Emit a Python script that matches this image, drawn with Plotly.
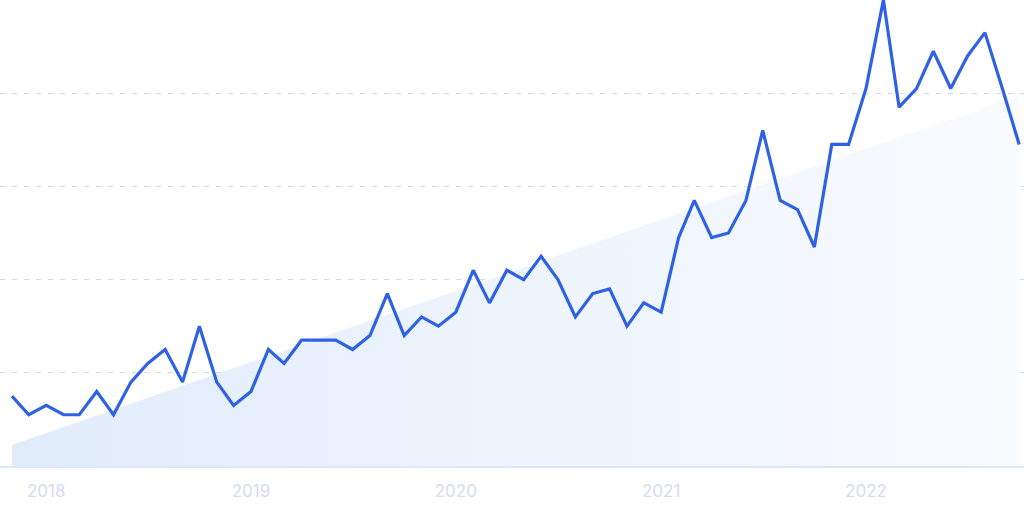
import pandas as pd
import plotly.graph_objects as go

# Monthly values, Nov 2017 .. Oct 2022
months = pd.date_range("2017-11-01", periods=60, freq="MS")
values = [15, 11, 13, 11, 11, 16, 11, 18, 22, 25, 18, 30, 18, 13, 16, 25, 22, 27, 27, 27,
          25, 28, 37, 28, 32, 30, 33, 42, 35, 42, 40, 45, 40, 32, 37, 38, 30, 35, 33, 49,
          57, 49, 50, 57, 72, 57, 55, 47, 69, 69, 81, 100, 77, 81, 89, 81, 88, 93, 81, 69]

# Trend (start and end value)
trend_x = [months[0], months[-1]]
trend_y = [4.5, 79.5]

tick_years = ["2018-01-01", "2019-01-01", "2020-01-01", "2021-01-01", "2022-01-01"]
tick_labels = ["2018", "2019", "2020", "2021", "2022"]
grid_vals = [20, 40, 60, 80, 100]

fig = go.Figure()
fig.add_trace(go.Scatter(
    x=trend_x, y=trend_y, mode="lines", line=dict(width=0),
    fill="tozeroy",
    fillgradient=dict(type="horizontal",
                      colorscale=[[0, "#e1ecfb"], [0.5, "#edf4fd"], [1, "#f9fbff"]]),
    hoverinfo="skip", showlegend=False, yaxis="y",
))
fig.add_trace(go.Scatter(
    x=months, y=values, mode="lines",
    line=dict(color="#2f62e3", width=3.2),
    showlegend=False, yaxis="y2",
))

month_days = 30.44
x0 = months[0] - pd.Timedelta(days=0.70 * month_days)
x1 = months[0] + pd.Timedelta(days=59.25 * month_days)

fig.update_layout(
    width=1024, height=511,
    margin=dict(l=0, r=0, t=0, b=45),
    paper_bgcolor="white", plot_bgcolor="white",
    font=dict(family="Inter, sans-serif"),
    xaxis=dict(
        range=[x0, x1], showgrid=False, zeroline=False,
        showline=True, linecolor="#dbe8fa", linewidth=2,
        tickvals=tick_years, ticktext=tick_labels,
        ticks="outside", ticklen=9, tickcolor="rgba(0,0,0,0)",
        tickfont=dict(size=17, color="#d3dcf3"),
    ),
    yaxis=dict(
        range=[0, 100], showticklabels=False, showgrid=False, zeroline=False,
    ),
    yaxis2=dict(
        range=[0, 100], tickvals=grid_vals, overlaying="y",
        showticklabels=False, showgrid=True, gridcolor="#cbdaf7",
        griddash="5px,7px", gridwidth=1, zeroline=False,
    ),
)

fig.write_html("out.html", config={"displayModeBar": False},
               post_script="document.body.style.margin='0px';")
